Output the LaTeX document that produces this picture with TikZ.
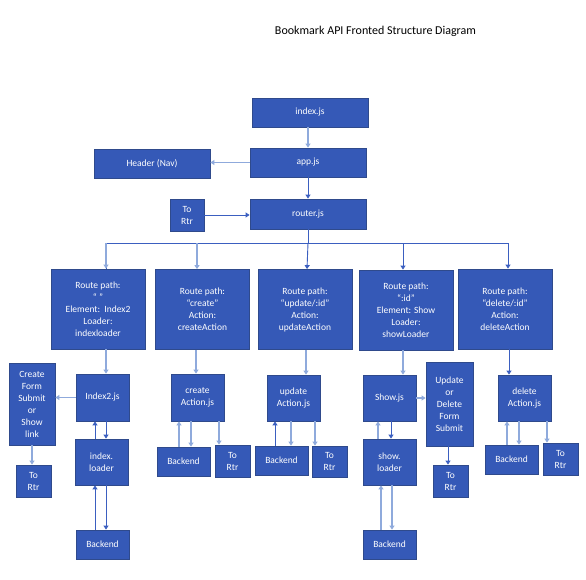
\documentclass[tikz,border=0pt]{standalone}
\usepackage{fontspec}
\setmainfont{Carlito}
\usetikzlibrary{arrows.meta}
\definecolor{boxfill}{HTML}{3559B7}
\definecolor{boxline}{HTML}{2F4A8C}
\definecolor{lightarr}{HTML}{8FAADC}
\definecolor{darkarr}{HTML}{3B5FC0}
\tikzset{
  blk/.style={draw=boxline, line width=0.8pt, fill=boxfill, text=white, align=center,
    inner sep=1pt, font=\fontsize{9.5}{12}\selectfont},
  la/.style={draw=lightarr, line width=1.5pt, -{Triangle[width=5pt,length=4pt]}},
  da/.style={draw=darkarr, line width=0.9pt, -{Triangle[width=5pt,length=4pt]}},
  dl/.style={draw=darkarr, line width=0.9pt},
}
\begin{document}
\begin{tikzpicture}[x=1pt,y=-1pt]
\useasboundingbox (0,0) rectangle (586,580);
\fill[white] (0,0) rectangle (586,580);
\node[font=\fontsize{12}{14}\selectfont] (title) at (375.5,31) {Bookmark API Fronted Structure Diagram};
% top
\node[blk, minimum width=116pt, minimum height=29pt] (index) at (310,112.5) {index.js};
\node[blk, minimum width=116pt, minimum height=29pt] (app) at (308,162.5) {app.js};
\node[blk, minimum width=116pt, minimum height=30pt] (router) at (308,214) {router.js};
\node[blk, minimum width=116pt, minimum height=29pt] (header) at (152,163.5) {Header (Nav)};
\node[blk, minimum width=34pt, minimum height=32pt] (tr0) at (187,215) {To\\Rtr};
% routes
\node[blk, minimum width=94pt, minimum height=80pt] (r1) at (98,309) {Route path:\\“ ”\\Element:\ \ Index2\\Loader:\\indexloader};
\node[blk, minimum width=94pt, minimum height=80pt] (r2) at (202.5,309.5) {Route path:\\“create”\\Action:\\createAction};
\node[blk, minimum width=94pt, minimum height=80pt] (r3) at (305,309.5) {Route path:\\“update/:id”\\Action:\\updateAction};
\node[blk, minimum width=94pt, minimum height=80pt] (r4) at (406,310) {Route path:\\“:id”\\Element: Show\\Loader:\\showLoader};
\node[blk, minimum width=94pt, minimum height=80pt] (r5) at (505,309) {Route path:\\“delete/:id”\\Action:\\deleteAction};
% bottom
\node[blk, minimum width=46pt, minimum height=82pt] (cf) at (32,404) {Create\\Form\\Submit\\or\\Show\\link};
\node[blk, minimum width=53pt, minimum height=47pt] (idx2) at (102.5,397.5) {Index2.js};
\node[blk, minimum width=53pt, minimum height=46pt] (idxl) at (101.5,462) {index.\\loader};
\node[blk, minimum width=53pt, minimum height=29pt] (be1) at (102.5,544.5) {Backend};
\node[blk, minimum width=35pt, minimum height=32pt] (tr1) at (33.5,481) {To\\Rtr};
\node[blk, minimum width=53pt, minimum height=47pt] (ca) at (197.5,397.5) {create\\Action.js};
\node[blk, minimum width=53pt, minimum height=29pt] (be2) at (183.5,461.5) {Backend};
\node[blk, minimum width=35pt, minimum height=32pt] (tr2) at (232.5,461) {To\\Rtr};
\node[blk, minimum width=53pt, minimum height=46pt] (ua) at (293.5,398) {update\\Action.js};
\node[blk, minimum width=53pt, minimum height=29pt] (be3) at (281.5,460.5) {Backend};
\node[blk, minimum width=35pt, minimum height=31pt] (tr3) at (329.5,461.5) {To\\Rtr};
\node[blk, minimum width=53pt, minimum height=46pt] (sj) at (389.5,398) {Show.js};
\node[blk, minimum width=53pt, minimum height=46pt] (sl) at (389.5,462) {show.\\loader};
\node[blk, minimum width=53pt, minimum height=29pt] (be4) at (389.5,544.5) {Backend};
\node[blk, minimum width=47pt, minimum height=84pt] (ud) at (449.5,404) {Update\\or\\Delete\\Form\\Submit};
\node[blk, minimum width=35pt, minimum height=32pt] (tr4) at (450.5,481) {To\\Rtr};
\node[blk, minimum width=53pt, minimum height=46pt] (dla) at (524.5,398) {delete\\Action.js};
\node[blk, minimum width=53pt, minimum height=29pt] (be5) at (511.5,459.5) {Backend};
\node[blk, minimum width=35pt, minimum height=32pt] (tr5) at (560.5,459) {To\\Rtr};
% top connectors
\draw[la] ([xshift=-2pt]index.south) -- ([xshift=-2pt]index.south |- app.north);
\draw[la] (app.west) -- (app.west -| header.east);
\draw[da] (app.south) -- (router.north);
\draw[da] (tr0.east) -- (tr0.east -| router.west);
% bus
\coordinate (bus) at (308,243);
\draw[dl] (router.south) -- (bus);
\draw[dl] (bus) -| ([xshift=8pt]r1.north);
\draw[la] ([xshift=8pt]r1.north |- bus) -- ([xshift=8pt]r1.north);
\draw[la] ([xshift=-5.5pt]r2.north |- bus) -- ([xshift=-5.5pt]r2.north);
\draw[da] (bus) -- ([xshift=2pt]r3.north);
\draw[da] (bus) -| ([xshift=-3pt]r4.north);
\draw[da] (bus) -| ([xshift=3pt]r5.north);
% route to files
\draw[la] ([xshift=8pt]r1.south) -- ([xshift=8pt]r1.south |- idx2.north);
\draw[la] ([xshift=-6.5pt]r2.south) -- ([xshift=-6.5pt]r2.south |- ca.north);
\draw[la] ([xshift=1pt]r3.south) -- ([xshift=1pt]r3.south |- ua.north);
\draw[la] ([xshift=-3pt]r4.south) -- ([xshift=-3pt]r4.south |- sj.north);
\draw[da] ([xshift=4pt]r5.south) -- ([xshift=4pt]r5.south |- dla.north);
% index group
\draw[la] (idx2.west) -- (idx2.west -| cf.east);
\draw[la] (cf.south) -- (cf.south |- tr1.north);
\draw[da] ([xshift=-6.5pt]idxl.north) -- ([xshift=-6.5pt]idxl.north |- idx2.south);
\draw[da] ([xshift=3.5pt]idx2.south) -- ([xshift=3.5pt]idx2.south |- idxl.north);
\draw[da] ([xshift=-7.5pt]be1.north) -- ([xshift=-7.5pt]be1.north |- idxl.south);
\draw[da] ([xshift=4.5pt]idxl.south) -- ([xshift=4.5pt]idxl.south |- be1.north);
% create group
\draw[la] ([xshift=-4.5pt]be2.north) -- ([xshift=-4.5pt]be2.north |- ca.south);
\draw[la] ([xshift=-6.5pt]ca.south) -- ([xshift=-6.5pt]ca.south |- be2.north);
\draw[la] ([xshift=21.5pt]ca.south) -- ([xshift=21.5pt]ca.south |- tr2.north);
% update group
\draw[da] ([xshift=-6.5pt]be3.north) -- ([xshift=-6.5pt]be3.north |- ua.south);
\draw[la] ([xshift=-2.5pt]ua.south) -- ([xshift=-2.5pt]ua.south |- be3.north);
\draw[la] ([xshift=21.5pt]ua.south) -- ([xshift=21.5pt]ua.south |- tr3.north);
% show group
\draw[la] (sj.east) -- (sj.east -| ud.west);
\draw[la] ([xshift=-11.5pt]sl.north) -- ([xshift=-11.5pt]sl.north |- sj.south);
\draw[da] ([xshift=1.5pt]sj.south) -- ([xshift=1.5pt]sj.south |- sl.north);
\draw[la] ([xshift=-8.5pt]be4.north) -- ([xshift=-8.5pt]be4.north |- sl.south);
\draw[la] ([xshift=2.5pt]sl.south) -- ([xshift=2.5pt]sl.south |- be4.north);
\draw[da] ([xshift=-1.5pt]ud.south) -- ([xshift=-1.5pt]ud.south |- tr4.north);
% delete group
\draw[la] ([xshift=-4.5pt]be5.north) -- ([xshift=-4.5pt]be5.north |- dla.south);
\draw[la] ([xshift=-5.5pt]dla.south) -- ([xshift=-5.5pt]dla.south |- be5.north);
\draw[la] ([xshift=22.5pt]dla.south) -- ([xshift=22.5pt]dla.south |- tr5.north);
\end{tikzpicture}
\end{document}
